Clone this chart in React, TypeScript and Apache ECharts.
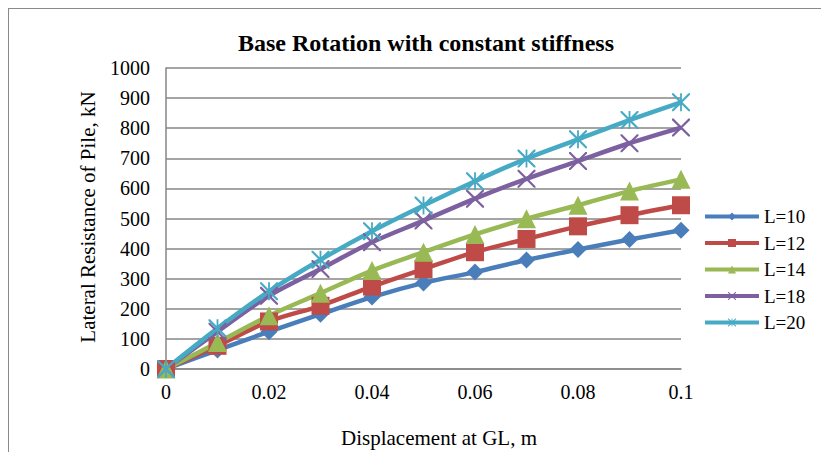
import React, { useEffect, useRef } from "react";
import * as echarts from "echarts";

// Displacement at ground level (m)
const displacement = [0, 0.01, 0.02, 0.03, 0.04, 0.05, 0.06, 0.07, 0.08, 0.09, 0.1];

// Lateral resistance (kN) for each pile length L
const resL10 = [0, 63, 124, 182, 239, 286, 322, 362, 397, 430, 461];
const resL12 = [0, 77, 158, 210, 274, 332, 388, 432, 474, 511, 544];
const resL14 = [0, 88, 177, 252, 327, 388, 447, 499, 544, 591, 630];
const resL18 = [0, 124, 243, 332, 421, 493, 566, 632, 691, 750, 802];
const resL20 = [0, 135, 258, 363, 458, 543, 624, 699, 763, 827, 886];

const seriesNames = ["L=10", "L=12", "L=14", "L=18", "L=20"];
const seriesValues = [resL10, resL12, resL14, resL18, resL20];
const seriesColors = ["#4A7EBB", "#BE4B48", "#98B954", "#7D60A0", "#46AAC5"];

const chartTitle = "Base Rotation with constant stiffness";
const xAxisTitle = "Displacement at GL, m";
const yAxisTitle = "Lateral Resistance of Pile, kN";

const FONT = "Liberation Serif, Times New Roman, serif";

const CROSS =
  "M0,0 L1.7,0 L10,8.3 L18.3,0 L20,0 L20,1.7 L11.7,10 L20,18.3 L20,20 L18.3,20 L10,11.7 L1.7,20 L0,20 L0,18.3 L8.3,10 L0,1.7 Z";
const STAR = CROSS + " M9,0 L11,0 L11,20 L9,20 Z";

const symbols = ["diamond", "rect", "triangle", "path://" + CROSS, "path://" + STAR];
const symbolSizes = [17, 18, 19, 18, 18];

export default function App() {
  const ref = useRef<HTMLDivElement>(null);

  useEffect(() => {
    document.documentElement.style.overflow = "hidden";
    document.body.style.overflow = "hidden";
    if (!ref.current) return;
    const chart = echarts.init(ref.current, undefined, { renderer: "svg" });

    const series = seriesNames.map((name, i) => ({
      name,
      type: "line",
      data: displacement.map((x, j) => [x, seriesValues[i][j]]),
      smooth: 0.35,
      symbol: symbols[i],
      symbolSize: symbolSizes[i],
      showAllSymbol: true,
      lineStyle: { color: seriesColors[i], width: 4.5 },
      itemStyle: { color: seriesColors[i], borderColor: seriesColors[i], borderWidth: 0 },
      emphasis: { disabled: true },
    }));

    chart.setOption({
      animation: false,
      backgroundColor: "#ffffff",
      grid: { left: 157, top: 59, width: 515, height: 301, containLabel: false },
      xAxis: {
        type: "value",
        min: 0,
        max: 0.1,
        interval: 0.02,
        axisLine: { show: true, lineStyle: { color: "#868686", width: 1.5 } },
        axisTick: { show: false },
        splitLine: { show: false },
        axisLabel: {
          color: "#000",
          fontFamily: FONT,
          fontSize: 20,
          margin: 13,
          formatter: (v: number) => String(Number(v.toFixed(2))),
        },
      },
      yAxis: {
        type: "value",
        min: 0,
        max: 1000,
        interval: 100,
        axisLine: { show: true, lineStyle: { color: "#868686", width: 1.5 } },
        axisTick: { show: false },
        splitLine: { show: true, lineStyle: { color: "#868686", width: 1.5 } },
        axisLabel: {
          color: "#000",
          fontFamily: FONT,
          fontSize: 20,
          margin: 16,
          formatter: (v: number) => String(v),
        },
      },
      legend: {
        orient: "vertical",
        left: 689,
        top: 193,
        itemWidth: 54,
        itemHeight: 10,
        itemGap: 7.5,
        data: seriesNames,
        lineStyle: { width: 4 },
        textStyle: { color: "#000", fontFamily: FONT, fontSize: 19 },
      },
      graphic: [
        {
          type: "text",
          x: 417,
          y: 34,
          style: {
            text: chartTitle,
            fill: "#000",
            font: `bold 24px ${FONT}`,
            align: "center",
            verticalAlign: "middle",
          },
        },
        {
          type: "text",
          x: 79,
          y: 208,
          rotation: Math.PI / 2,
          style: {
            text: yAxisTitle,
            fill: "#000",
            font: `21px ${FONT}`,
            align: "center",
            verticalAlign: "middle",
          },
        },
        {
          type: "text",
          x: 430,
          y: 429,
          style: {
            text: xAxisTitle,
            fill: "#000",
            font: `21px ${FONT}`,
            align: "center",
            verticalAlign: "middle",
          },
        },
      ],
      series,
    });

    return () => chart.dispose();
  }, []);

  return (
    <div
      ref={ref}
      style={{ width: 813, height: 460, border: "1px solid #8a8a8a" }}
    />
  );
}
